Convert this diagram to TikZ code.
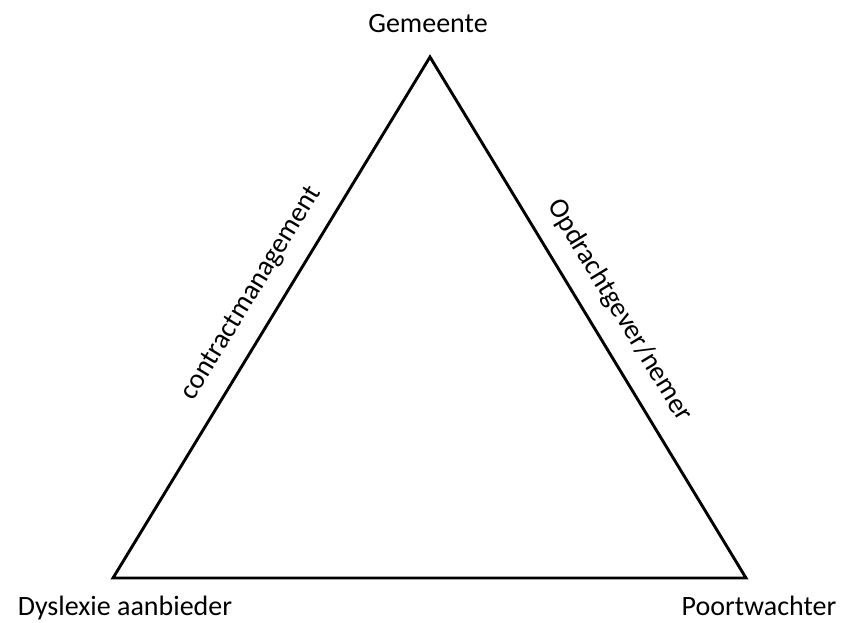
\documentclass[tikz,border=0pt]{standalone}
\usepackage{fontspec}
\setmainfont{Carlito}
\tikzstyle{hoek} = [font=\fontsize{28}{34}\selectfont, inner sep=0pt, anchor=base]
\tikzstyle{rel} = [font=\fontsize{28}{34}\selectfont, inner sep=0pt, sloped]

\begin{document}
\begin{tikzpicture}[x=1pt,y=-1pt]
\useasboundingbox (0,0) rectangle (843,622);
\coordinate (top) at (430,57);
\coordinate (links) at (113,578);
\coordinate (rechts) at (746,578);

\node[hoek] (gem) at (428,32) {Gemeente};
\node[hoek] (dys) at (125,615) {Dyslexie aanbieder};
\node[hoek] (poort) at (759,615) {Poortwachter};

\draw[line width=2.9pt, line join=miter] (links) -- (top) -- (rechts) -- cycle;

\path (links) -- node[rel, pos=0.517, above=18pt] (contract) {contractmanagement} (top);
\path (top) -- node[rel, pos=0.517, above=18pt] (opdracht) {Opdrachtgever/nemer} (rechts);
\end{tikzpicture}
\end{document}
